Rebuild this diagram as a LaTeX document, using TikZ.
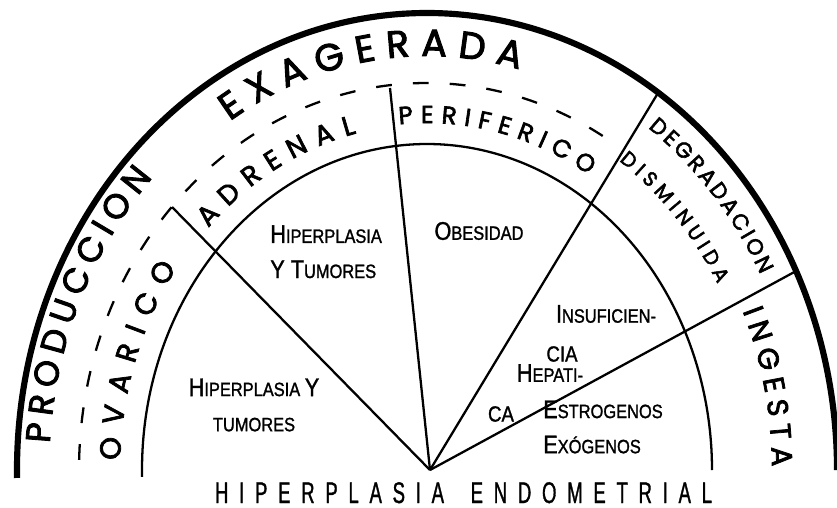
\documentclass[tikz,border=0pt]{standalone}
\usepackage{fontspec}
\usetikzlibrary{decorations.text}
\newfontfamily\handfont[FakeBold=2.6]{Poppins}
\newfontfamily\labelfont[FakeStretch=0.85,FakeBold=1.3]{Liberation Sans}
\newfontfamily\titlefont[FakeStretch=0.62,FakeBold=1]{Liberation Sans}
\newcommand\bigini[1]{{\fontsize{14.5}{14.5}\selectfont #1}}

\begin{document}
\begin{tikzpicture}[x=0.02cm, y=0.02cm,
  rim/.style={line width=3.5pt},
  ring/.style={line width=1.3pt},
  spoke/.style={line width=1.3pt},
  guide/.style={line width=1.3pt, dash pattern=on 9pt off 12pt},
  cell/.style={font=\labelfont\fontsize{11}{20}\selectfont, align=center, inner sep=0pt},
  arctext/.style n args={2}{decorate, decoration={text along path, text align=fit to path,
    text={|\handfont\fontsize{#1}{#1}\selectfont|#2}}}]
\useasboundingbox (-427,-37) rectangle (410,470);
% outer rim, inner ring and dashed guide
\draw[rim] (181:410 and 457) arc[start angle=181, end angle=0, x radius=410, y radius=457];
\draw[ring] (181.2:285 and 326) arc[start angle=181.2, end angle=0, x radius=285, y radius=326];
\draw[guide] (178.5:348 and 387) arc[start angle=178.5, end angle=57, x radius=348, y radius=387];

% spokes
\coordinate (apex) at (3,0);
\coordinate (adrenalTip) at (-255,263);
\coordinate (periTip) at (-37,382);
\coordinate (liverTip) at (231,377);
\coordinate (intakeTip) at (371,200);
\draw[spoke] (apex) -- (adrenalTip);
\draw[spoke] (apex) -- (periTip);
\draw[spoke] (apex) -- (liverTip);
\draw[spoke] (apex) -- (intakeTip);

% lettering round the arcs
\path[arctext={19.5}{PRODUCCION}] (176.4:378 and 425) arc[start angle=176.4, end angle=136.5, x radius=378, y radius=425];
\path[arctext={21.5}{EXAGERADA}] (122.6:366 and 414) arc[start angle=122.6, end angle=75.4, x radius=366, y radius=414];
\path[arctext={16.5}{OVARICO}] (178.4:307 and 349) arc[start angle=178.4, end angle=144.6, x radius=307, y radius=349];
\path[arctext={15.5}{ADRENAL}] (135.6:306 and 346) arc[start angle=135.6, end angle=103.3, x radius=306, y radius=346];
\path[arctext={14}{PERIFERICO}] (95.2:307 and 347) arc[start angle=95.2, end angle=58.2, x radius=307, y radius=347];
\path[arctext={12.5}{DEGRADACION}] (54:376 and 423) arc[start angle=54, end angle=27.5, x radius=376, y radius=423];
\path[arctext={11.5}{DISMINUIDA}] (54.9:334 and 378) arc[start angle=54.9, end angle=29.5, x radius=334, y radius=378];
\path[arctext={16.5}{INGESTA}] (23.8:345 and 394) arc[start angle=23.8, end angle=0.5, x radius=345, y radius=394];

% cell texts
\node[cell, align=left, anchor=north west] (adrenalCell) at (-157,245) {\bigini{H}IPERPLASIA\\\bigini{Y T}UMORES};
\node[cell] (ovaryCell) at (-173,65) {\bigini{H}IPERPLASIA \bigini{Y}\\TUMORES};
\node[cell] (obesityCell) at (52,239) {\bigini{O}BESIDAD};
\node[cell] (liverA) at (179,156) {\bigini{I}NSUFICIEN-};
\node[cell, font=\labelfont\fontsize{12.5}{14}\selectfont] (liverB) at (135,116) {CIA};
\node[cell] (liverC) at (123,97) {\bigini{H}EPATI-};
\node[cell, font=\labelfont\fontsize{12.5}{14}\selectfont] (liverD) at (74,56) {CA};
\node[cell, align=left] (intakeCell) at (176,43) {\bigini{E}STROGENOS\\\bigini{E}XÓGENOS};

% title
\coordinate (titleL) at (-212,-33);
\coordinate (titleR) at (285,-33);
\path[decorate, decoration={text along path, text align=fit to path,
  text={|\titlefont\fontsize{17}{17}\selectfont|HIPERPLASIA ENDOMETRIAL}}] (titleL) -- (titleR);
\end{tikzpicture}
\end{document}
